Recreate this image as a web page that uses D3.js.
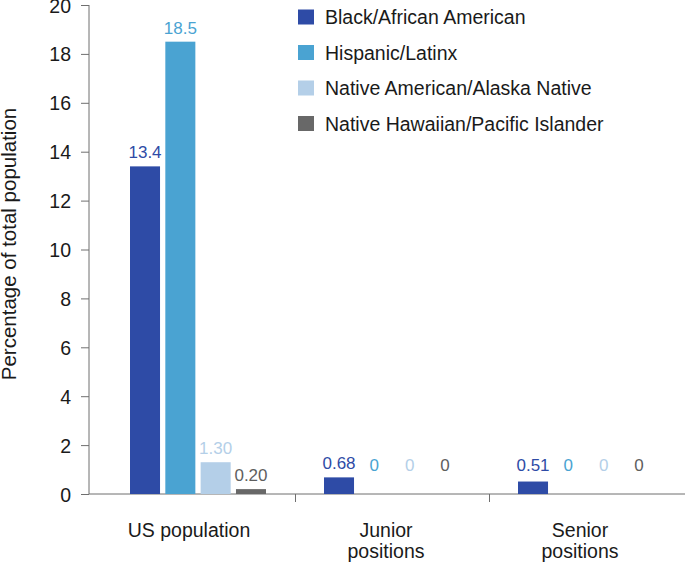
<!DOCTYPE html>
<html><head><meta charset="utf-8">
<script src="https://cdn.jsdelivr.net/npm/d3@7"></script>
<style>body{margin:0;background:#fff}svg{display:block}text{font-family:"Liberation Sans",Arial,Helvetica,sans-serif}</style>
</head><body><svg id="c" width="685" height="563"></svg>
<script>
const categories = ["US population", "Junior\npositions", "Senior\npositions"];
const series = ["Black/African American", "Hispanic/Latinx", "Native American/Alaska Native", "Native Hawaiian/Pacific Islander"];
const black    = [13.4, 0.68, 0.51];
const hispanic = [18.5, 0, 0];
const native   = [1.30, 0, 0];
const hawaiian = [0.20, 0, 0];
const valueLabels = [["13.4","0.68","0.51"],["18.5","0","0"],["1.30","0","0"],["0.20","0","0"]];
const yTicks = [0,2,4,6,8,10,12,14,16,18,20];
const colors = ["#2e4ba6", "#4aa3d2", "#b4cfe8", "#686868"];
const labelColors = ["#2e4ba6", "#4aa3d2", "#b4cfe8", "#5e5e5e"];

const values = [black, hispanic, native, hawaiian];
const svg = d3.select("#c");
const axisColor = "#6f6f6f";

const y = d3.scaleLinear().domain([0,20]).range([494,5]);
const x0 = d3.scaleBand().domain(categories).range([101,683]);
const x1 = d3.scaleBand().domain(series).range([0,136]).paddingInner(0.15);

// y axis
const yAxis = svg.append("g").attr("transform","translate(89,0)")
  .call(d3.axisLeft(y).tickValues(yTicks).tickSize(8).tickPadding(10).tickFormat(d3.format("d")));
yAxis.select(".domain").attr("stroke",axisColor).attr("d","M0,"+y(20)+"V"+y(0));
yAxis.selectAll(".tick line").attr("stroke",axisColor);
yAxis.selectAll(".tick text").attr("fill","#1a1a1a").style("font-size","19.5px").attr("dy","0.36em");

// x axis line + separators
svg.append("line").attr("x1",89).attr("x2",685).attr("y1",y(0)).attr("y2",y(0)).attr("stroke",axisColor);
categories.slice(1).forEach(c=>{
  svg.append("line").attr("x1",x0(c)+0.5).attr("x2",x0(c)+0.5).attr("y1",y(0)).attr("y2",y(0)+8).attr("stroke",axisColor);
});

// bars
categories.forEach((c,ci)=>{
  const gx = x0(c) + x0.bandwidth()/2 - 68;
  const g = svg.append("g").attr("transform","translate("+gx+",0)");
  series.forEach((s,si)=>{
    const v = values[si][ci];
    if (v>0) g.append("rect").attr("x",x1(s)).attr("width",x1.bandwidth())
      .attr("y",y(v)).attr("height",y(0)-y(v)).attr("fill",colors[si]);
    let ly = y(v)-8;
    if (ci>0) ly = Math.min(ly, 471);
    g.append("text").attr("x",x1(s)+x1.bandwidth()/2).attr("y",ly)
      .attr("text-anchor","middle").attr("fill",labelColors[si]).style("font-size","17px")
      .text(valueLabels[si][ci]);
  });
  const lines = c.split("\n");
  const t = svg.append("text").attr("text-anchor","middle").attr("fill","#1a1a1a").style("font-size","19.5px");
  const off = ci===0 ? -9 : -6;
  lines.forEach((ln,li)=>{
    t.append("tspan").attr("x",x0(c)+x0.bandwidth()/2+off).attr("y",537+li*21).text(ln);
  });
});

// y title
svg.append("text").attr("transform","translate(16,244) rotate(-90)").attr("text-anchor","middle")
  .attr("fill","#1a1a1a").style("font-size","20.5px").text("Percentage of total population");

// legend
series.forEach((s,i)=>{
  const ly = 9.5 + i*35.5;
  svg.append("rect").attr("x",298).attr("y",ly).attr("width",16).attr("height",15).attr("fill",colors[i]);
  svg.append("text").attr("x",325).attr("y",ly+14.5).attr("fill","#1a1a1a").style("font-size","19.5px").text(s);
});
</script></body></html>
